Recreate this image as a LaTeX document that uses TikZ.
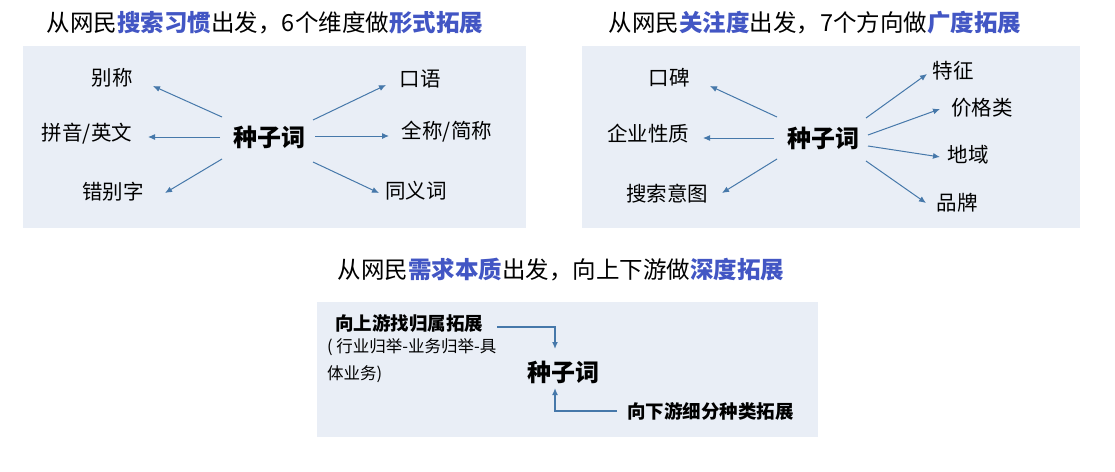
\documentclass[tikz,border=0pt]{standalone}
\usepackage{fontspec}
\setmainfont{Noto Sans CJK SC}
\newfontfamily\cjk{Noto Sans CJK SC}
\usetikzlibrary{arrows.meta}
\definecolor{hl}{RGB}{66,86,196}
\definecolor{panel}{RGB}{233,238,246}
\definecolor{arr}{RGB}{70,120,170}
\tikzset{
  pnl/.style={fill=panel,draw=none},
  ttl/.style={font=\cjk\fontsize{23.5}{28}\selectfont,inner sep=0pt},
  lbl/.style={font=\cjk\fontsize{20.5}{24}\selectfont,inner sep=0pt},
  seed/.style={font=\cjk\bfseries\fontsize{24}{28}\selectfont,inner sep=0pt},
  sub/.style={font=\cjk\bfseries\fontsize{18.5}{22}\selectfont,inner sep=0pt},
  note/.style={font=\cjk\fontsize{16.5}{27}\selectfont,inner sep=0pt,align=left},
  conn/.style={draw=arr,line width=1pt,-{Latex[length=7pt,width=6pt]}},
  conn3/.style={draw=arr,line width=1.4pt,-{Latex[length=7pt,width=6pt]}},
}
\begin{document}
\begin{tikzpicture}[x=1pt,y=-1pt]
\useasboundingbox (0,0) rectangle (1115,471);
\fill[white] (0,0) rectangle (1115,471);
% panels
\fill[pnl] (23,46) rectangle (526,228);
\fill[pnl] (582,46) rectangle (1080,228);
\fill[pnl] (317,302) rectangle (818,437);
% titles
\node[ttl] (t1) at (265,23) {从网民\textbf{\textcolor{hl}{搜索习惯}}出发，6个维度做\textbf{\textcolor{hl}{形式拓展}}};
\node[ttl] (t2) at (815,23) {从网民\textbf{\textcolor{hl}{关注度}}出发，7个方向做\textbf{\textcolor{hl}{广度拓展}}};
\node[ttl] (t3) at (561,270) {从网民\textbf{\textcolor{hl}{需求本质}}出发，向上下游做\textbf{\textcolor{hl}{深度拓展}}};
% panel 1
\node[seed] (s1) at (269,137) {种子词};
\node[lbl] (a1) at (112,78) {别称};
\node[lbl] (a2) at (87,134) {拼音/英文};
\node[lbl] (a3) at (113,192) {错别字};
\node[lbl] (a4) at (420,79) {口语};
\node[lbl] (a5) at (447,132) {全称/简称};
\node[lbl] (a6) at (416,191) {同义词};
\coordinate (a1s) at (222,117); \coordinate (a1e) at (153,86);
\coordinate (a2s) at (220,137); \coordinate (a2e) at (148,137);
\coordinate (a3s) at (222,159); \coordinate (a3e) at (165,193);
\coordinate (a4s) at (313,120); \coordinate (a4e) at (386,85);
\coordinate (a5s) at (315,136); \coordinate (a5e) at (389,136);
\coordinate (a6s) at (313,162); \coordinate (a6e) at (379,193);
\foreach \i in {1,...,6}{\draw[conn] (a\i s) -- (a\i e);}
% panel 2
\node[seed] (s2) at (823,138) {种子词};
\node[lbl] (b1) at (669,78) {口碑};
\node[lbl] (b2) at (648,134) {企业性质};
\node[lbl] (b3) at (667,194) {搜索意图};
\node[lbl] (b4) at (953,71) {特征};
\node[lbl] (b5) at (982,108) {价格类};
\node[lbl] (b6) at (968,155) {地域};
\node[lbl] (b7) at (957,203) {品牌};
\coordinate (b1s) at (777,117); \coordinate (b1e) at (710,86);
\coordinate (b2s) at (774,138); \coordinate (b2e) at (703,138);
\coordinate (b3s) at (777,159); \coordinate (b3e) at (722,193);
\coordinate (b4s) at (866,118); \coordinate (b4e) at (927,74);
\coordinate (b5s) at (868,135); \coordinate (b5e) at (940,109);
\coordinate (b6s) at (868,146); \coordinate (b6e) at (940,157);
\coordinate (b7s) at (866,161); \coordinate (b7e) at (926,203);
\foreach \i in {1,...,7}{\draw[conn] (b\i s) -- (b\i e);}
% panel 3
\node[seed] (s3) at (563,372) {种子词};
\node[sub,anchor=west] (u) at (335,323) {向上游找归属拓展};
\node[note,anchor=north west] (n) at (327,338) {( 行业归举-业务归举-具\\体业务)};
\node[sub,anchor=west] (d) at (627,411) {向下游细分种类拓展};
\coordinate (uS) at (497,327); \coordinate (uE) at (555,349);
\coordinate (dS) at (617,411); \coordinate (dE) at (555,388);
\draw[conn3] (uS) -| (uE);
\draw[conn3] (dS) -| (dE);
\end{tikzpicture}
\end{document}
